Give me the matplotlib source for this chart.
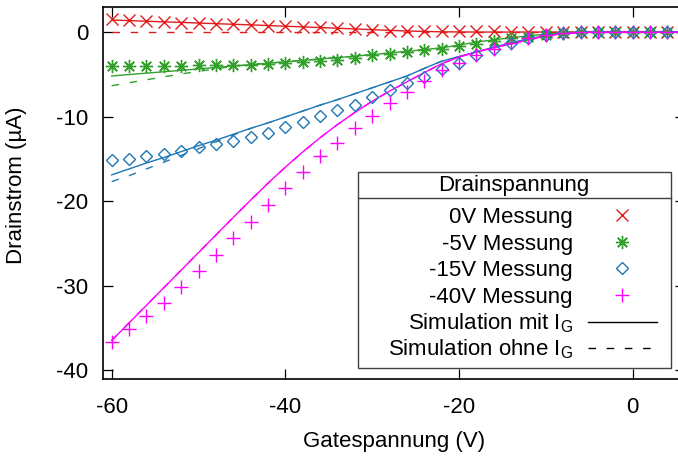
import matplotlib
matplotlib.use("Agg")
import matplotlib.pyplot as plt
from matplotlib.lines import Line2D
from matplotlib.patches import Rectangle

plt.rcParams['font.family'] = ['Liberation Sans', 'DejaVu Sans']
plt.rcParams['mathtext.fontset'] = 'custom'
plt.rcParams['mathtext.rm'] = 'Liberation Sans'
plt.rcParams['font.size'] = 16
plt.rcParams['axes.unicode_minus'] = False

# Messwerte (Gatespannung in V, Drainstrom in uA)
gate = [-60, -58, -56, -54, -52, -50, -48, -46, -44, -42, -40, -38, -36, -34, -32, -30, -28,
        -26, -24, -22, -20, -18, -16, -14, -12, -10, -8, -6, -4, -2, 0, 2, 4]

mess_0v = [1.6, 1.45, 1.3, 1.2, 1.1, 1.03, 0.95, 0.9, 0.83, 0.75, 0.7, 0.63, 0.55, 0.45, 0.33, 0.25, 0.18,
           0.15, 0.12, 0.1, 0.1, 0.08, 0.07, 0.06, 0.05, 0.03, 0.02, 0, 0, 0, 0, 0, 0]
mess_5v = [-4.0, -4.05, -4.05, -4.05, -4.0, -3.95, -3.95, -3.85, -3.85, -3.8, -3.67, -3.55, -3.4, -3.28, -3.08, -2.77, -2.57,
           -2.41, -2.18, -2.0, -1.68, -1.39, -1.11, -0.75, -0.55, -0.32, -0.12, 0, 0, 0, 0, 0, 0]
mess_15v = [-15.2, -15.0, -14.7, -14.4, -14.1, -13.65, -13.3, -12.9, -12.4, -11.9, -11.2, -10.6, -9.9, -9.2, -8.6, -7.7, -6.9,
            -6.05, -5.3, -4.42, -3.67, -2.7, -1.95, -1.27, -0.75, -0.34, -0.08, 0, 0, 0, 0, 0, 0]
mess_40v = [-36.7, -35.2, -33.6, -32.1, -30.2, -28.3, -26.4, -24.4, -22.5, -20.5, -18.4, -16.6, -14.7, -13.1, -11.4, -9.9, -8.4,
            -7.1, -5.85, -4.55, -3.62, -2.69, -2.0, -1.3, -0.72, -0.32, -0.08, 0, 0, 0, 0, 0, 0]

# Simulation
gate_sim = [-60, -58, -56, -54, -52, -50, -48, -46, -44, -42, -40, -38, -36, -34, -32, -30, -28,
            -26, -24, -22, -20, -18, -16, -14, -12, -10, -8, -6, -4, -2, 0, 2, 4, 6]

sim_mit_0v = [1.43, 1.35, 1.28, 1.21, 1.14, 1.07, 0.99, 0.92, 0.85, 0.77, 0.69, 0.61, 0.53, 0.45, 0.37, 0.28, 0.2,
              0.13, 0.07, 0.03, 0.01, 0, 0, 0, 0, 0, 0, 0, 0, 0, 0, 0, 0, 0]
sim_ohne_0v = [0] * 34
sim_mit_5v = [-5.2, -5.03, -4.86, -4.7, -4.53, -4.36, -4.19, -4.02, -3.86, -3.69, -3.52, -3.36, -3.19, -3.02, -2.86, -2.67, -2.48,
              -2.28, -2.08, -1.86, -1.55, -1.18, -0.92, -0.67, -0.45, -0.25, -0.08, 0, 0, 0, 0, 0, 0, 0]
sim_ohne_5v = [-6.35, -6.0, -5.65, -5.3, -4.95, -4.65, -4.35, -4.05, -3.86, -3.69, -3.52, -3.36, -3.19, -3.02, -2.86, -2.67, -2.48,
               -2.28, -2.08, -1.86, -1.55, -1.18, -0.92, -0.67, -0.45, -0.25, -0.08, 0, 0, 0, 0, 0, 0, 0]
sim_mit_15v = [-16.9, -16.2, -15.5, -14.85, -14.15, -13.45, -12.8, -12.1, -11.4, -10.75, -10.05, -9.35, -8.65, -8.0, -7.3, -6.6, -5.9,
               -5.2, -4.3, -3.45, -2.9, -2.35, -1.8, -1.25, -0.8, -0.42, -0.16, -0.05, 0, 0, 0, 0, 0, 0]
sim_ohne_15v = [-17.7, -17.0, -16.2, -15.4, -14.6, -13.8, -13.0, -12.2, -11.4, -10.75, -10.05, -9.35, -8.65, -8.0, -7.3, -6.6, -5.9,
                -5.2, -4.3, -3.45, -2.9, -2.35, -1.8, -1.25, -0.8, -0.42, -0.16, -0.05, 0, 0, 0, 0, 0, 0]
sim_mit_40v = [-36.5, -34.42, -32.34, -30.26, -28.18, -26.1, -24.02, -21.94, -19.89, -17.89, -15.99, -14.19, -12.51, -10.95, -9.51, -8.19, -6.99,
               -5.89, -4.8, -3.75, -2.95, -2.35, -1.85, -1.4, -0.9, -0.45, -0.18, -0.06, 0, 0, 0, 0, 0, 0]
sim_ohne_40v = sim_mit_40v

farben = ['#e31a1c', '#33a02c', '#1f78b4', '#ff00ff']
marker = ['x', (8, 2, 0), 'D', '+']
msize = [9, 9.5, 6.3, 9.5]
namen = ['0V Messung', '-5V Messung', '-15V Messung', '-40V Messung']

fig = plt.figure(figsize=(6.78, 4.57), dpi=100)
ax = fig.add_axes([103 / 678, 1 - 378.5 / 457, 581.8 / 678, 371.8 / 457])

sim_mit = [sim_mit_0v, sim_mit_5v, sim_mit_15v, sim_mit_40v]
sim_ohne = [sim_ohne_0v, sim_ohne_5v, sim_ohne_15v, sim_ohne_40v]
messung = [mess_0v, mess_5v, mess_15v, mess_40v]

for i in range(4):
    ax.plot(gate_sim, sim_ohne[i], color=farben[i], lw=1.0, dashes=(5.4, 7.7), zorder=2)
    ax.plot(gate_sim, sim_mit[i], color=farben[i], lw=1.0, zorder=2)

punkte = []
for i in range(4):
    p, = ax.plot(gate, messung[i], linestyle='none', marker=marker[i], ms=msize[i],
                 mec=farben[i], mfc='none', mew=1.0, color=farben[i], zorder=3)
    punkte.append(p)

ax.set_xlim(-61, 6)
ax.set_ylim(-41, 3)
ax.set_xticks([-60, -40, -20, 0])
ax.set_yticks([0, -10, -20, -30, -40])
ax.tick_params(axis='both', direction='in', length=7.2, width=0.9, top=True, right=True, labelsize=16)
ax.tick_params(axis='x', pad=13)
ax.tick_params(axis='y', pad=10.5)
for s in ax.spines.values():
    s.set_linewidth(1.2)

ax.set_xlabel('Gatespannung (V)', fontsize=16)
ax.set_ylabel('Drainstrom (µA)', fontsize=16)
ax.xaxis.set_label_coords(0.501, -0.141)
ax.yaxis.set_label_coords(-0.131, 0.52)

# Legende: Rahmen, Titel und Trennlinie
rahmen = Rectangle((0.4383, 0.0274), 0.5375, 0.5288, transform=ax.transAxes,
                   facecolor='white', edgecolor='#404040', lw=1.0, zorder=5)
ax.add_patch(rahmen)
ax.plot([0.4383, 0.9758], [0.4863, 0.4863], transform=ax.transAxes, color='#404040', lw=1.0, zorder=6)
ax.text(0.7064, 0.5043, 'Drainspannung', transform=ax.transAxes, ha='center', va='baseline',
        fontsize=16, zorder=7)

opts = dict(loc='upper right', frameon=False, markerfirst=False, borderpad=0, borderaxespad=0,
            handlelength=3.09, handletextpad=0.69, fontsize=16)

leg1 = ax.legend(punkte, namen, bbox_to_anchor=(0.9517, 0.461), labelspacing=0.25, **opts)
leg1.set_zorder(8)
ax.add_artist(leg1)

sim_handles = [Line2D([], [], color='black', lw=1.0),
               Line2D([], [], color='black', lw=1.0, dashes=(5.4, 7.7))]
sim_labels = [r'Simulation mit I$_\mathrm{G}$', r'Simulation ohne I$_\mathrm{G}$']
leg2 = ax.legend(sim_handles, sim_labels, bbox_to_anchor=(0.9517, 0.18), labelspacing=0.1, **opts)
leg2.set_zorder(8)

fig.savefig('out.png', dpi=100)
